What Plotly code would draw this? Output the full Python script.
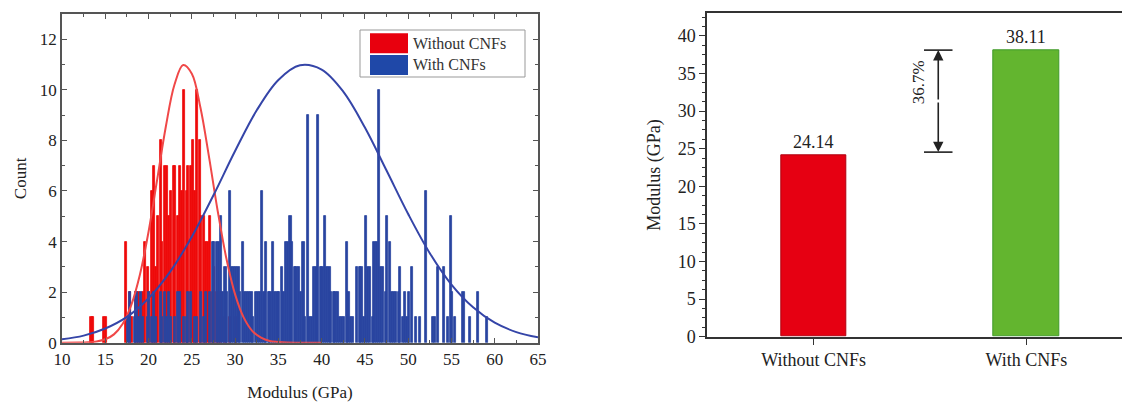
import plotly.graph_objects as go

# ---------------- data: histogram (left) ----------------
red_x = [13.4, 13.6, 14.9, 15.1, 17.4, 17.9, 18.1, 18.6, 18.9, 19.1, 19.4, 19.6, 19.9, 20.1,
         20.4, 20.6, 20.9, 21.1, 21.4, 21.6, 21.9, 22.1, 22.4, 22.6, 22.9, 23.1, 23.4, 23.6,
         23.9, 24.1, 24.4, 24.6, 24.9, 25.1, 25.4, 25.6, 25.9, 26.1, 26.4, 26.6, 26.9, 27.1,
         27.4, 27.6, 27.9, 28.1, 28.4, 28.9, 29.4, 30.1]
red_count = [1, 1, 1, 1, 4, 2, 1, 2, 2, 1, 2, 4, 3, 2,
             6, 7, 3, 5, 8, 4, 7, 7, 5, 6, 7, 7, 5, 7,
             6, 10, 6, 7, 7, 8, 6, 10, 8, 5, 5, 4, 4, 5,
             2, 3, 2, 1, 2, 1, 1, 1]

blue_x = [17.6, 17.9, 18.4, 18.6, 18.9, 19.1, 19.4, 19.9, 20.1, 20.4, 20.6, 20.9, 21.4, 21.6,
          21.9, 22.1, 22.4, 22.6, 23.1, 23.4, 23.6, 24.1, 24.4, 24.6, 24.9, 25.4, 25.6, 26.1,
          26.4, 26.6, 27.1, 27.4, 27.6, 27.9, 28.1, 28.4, 28.6, 28.9, 29.1, 29.4, 29.6, 29.9,
          30.1, 30.4, 30.6, 30.9, 31.1, 31.4, 31.6, 31.9, 32.1, 32.4, 32.6, 32.9, 33.1, 33.4,
          33.6, 33.9, 34.1, 34.4, 34.6, 34.9, 35.1, 35.4, 35.6, 35.9, 36.1, 36.4, 36.6, 36.9,
          37.1, 37.4, 37.6, 37.9, 38.1, 38.4, 38.6, 38.9, 39.1, 39.4, 39.6, 39.9, 40.1, 40.4,
          40.6, 40.9, 41.1, 41.4, 41.6, 41.9, 42.1, 42.4, 42.6, 42.9, 43.1, 43.4, 43.6, 44.1,
          44.4, 44.6, 44.9, 45.1, 45.4, 45.6, 45.9, 46.1, 46.4, 46.6, 46.9, 47.1, 47.4, 47.6,
          47.9, 48.1, 48.4, 48.6, 48.9, 49.1, 49.4, 49.6, 49.9, 50.1, 50.4, 50.9, 51.4, 52.1,
          52.9, 53.1, 53.4, 54.1, 54.6, 54.9, 55.1, 55.4, 56.4, 57.1, 58.1, 59.1]
blue_count = [1, 2, 1, 2, 1, 2, 1, 1, 2, 1, 2, 1, 2, 1,
              2, 1, 2, 1, 1, 2, 2, 1, 1, 2, 2, 1, 1, 2,
              1, 2, 2, 4, 4, 4, 4, 5, 2, 3, 2, 6, 3, 3,
              3, 3, 2, 4, 2, 2, 2, 2, 1, 2, 2, 2, 6, 2,
              4, 2, 2, 4, 2, 2, 2, 3, 2, 4, 4, 5, 4, 3,
              3, 3, 2, 4, 1, 9, 1, 1, 3, 3, 9, 3, 3, 5,
              3, 3, 2, 2, 2, 2, 1, 1, 1, 4, 2, 1, 1, 3,
              3, 3, 1, 5, 3, 3, 1, 4, 4, 10, 3, 3, 2, 5,
              4, 2, 2, 2, 2, 3, 1, 2, 1, 2, 3, 1, 1, 6,
              1, 1, 3, 3, 1, 5, 2, 1, 2, 1, 2, 1]

# fitted normal curves
red_fit_x = [10, 12, 13, 14, 15, 16, 17, 18, 19, 20, 21, 22, 23, 24, 25, 26, 27, 28, 29, 30,
             31, 32, 33, 34, 35, 36, 40]
red_fit_y = [0.0, 0.005, 0.016, 0.049, 0.135, 0.33, 0.74, 1.49, 2.69, 4.39, 6.46, 8.55, 10.21,
             10.98, 10.64, 9.29, 7.32, 5.19, 3.32, 1.91, 0.99, 0.46, 0.20, 0.07, 0.03, 0.01, 0.0]
blue_fit_x = [10, 12.5, 15, 17.5, 20, 22.5, 25, 27.5, 30, 32.5, 35, 37.5, 40, 42.5, 45, 47.5,
              50, 52.5, 55, 57.5, 60, 62.5, 65]
blue_fit_y = [0.134, 0.28, 0.56, 1.02, 1.76, 2.81, 4.19, 5.83, 7.58, 9.19, 10.39, 10.97, 10.80,
              9.93, 8.51, 6.81, 5.09, 3.54, 2.30, 1.40, 0.79, 0.42, 0.21]

series_names = ["Without CNFs", "With CNFs"]

# ---------------- data: bar chart (right) ----------------
bar_categories = ["Without CNFs", "With CNFs"]
bar_values = [24.14, 38.11]
bar_labels = ["24.14", "38.11"]
increase_label = "36.7%"
increase_from = 24.55
increase_to = 38.11

W, H = 1122, 403
RED = "#EE0A0A"
BLUE = "#2A45A0"
FONT = "Liberation Serif"


def px(x):
    return x / W


def py(y):
    return 1 - y / H


fig = go.Figure()

fig.add_trace(go.Bar(x=red_x, y=red_count, width=0.25, name=series_names[0],
                     marker=dict(color=RED, line=dict(color=RED, width=0.8)),
                     xaxis="x", yaxis="y", showlegend=False))
fig.add_trace(go.Bar(x=blue_x, y=blue_count, width=0.25, name=series_names[1],
                     marker=dict(color=BLUE, line=dict(color=BLUE, width=0.8)),
                     xaxis="x", yaxis="y", showlegend=False))
fig.add_trace(go.Scatter(x=red_fit_x, y=red_fit_y, mode="lines",
                         line=dict(color="#F04848", width=2, shape="spline", smoothing=1.0),
                         xaxis="x", yaxis="y", showlegend=False))
fig.add_trace(go.Scatter(x=blue_fit_x, y=blue_fit_y, mode="lines",
                         line=dict(color="#3545A8", width=2, shape="spline", smoothing=1.0),
                         xaxis="x", yaxis="y", showlegend=False))

fig.add_trace(go.Bar(x=bar_categories, y=bar_values, width=0.306,
                     text=bar_labels, textposition="outside",
                     textfont=dict(family=FONT, size=18, color="#222"),
                     marker=dict(color=["#E60012", "#63B52F"],
                                 line=dict(color=["#B00010", "#3F9A2A"], width=1)),
                     cliponaxis=False, xaxis="x2", yaxis="y2", showlegend=False))

axis_col = "#555555"
fig.update_layout(
    width=W, height=H,
    margin=dict(l=0, r=0, t=0, b=0, autoexpand=False),
    paper_bgcolor="white", plot_bgcolor="white",
    barmode="overlay", bargap=0,
    font=dict(family=FONT, size=17, color="#222"),
    xaxis=dict(domain=[px(62), px(538)], range=[10, 65], dtick=5, tick0=10,
               ticks="inside", ticklen=5, tickcolor=axis_col,
               minor=dict(dtick=2.5, ticks="inside", ticklen=3, tickcolor=axis_col),
               showline=True, linecolor=axis_col, linewidth=1.5, mirror="allticks",
               showgrid=False, zeroline=False, automargin=False,
               tickfont=dict(family=FONT, size=17, color="#222"),
               title=dict(text="Modulus (GPa)", font=dict(family=FONT, size=17), standoff=18)),
    yaxis=dict(domain=[py(342.7), py(14)], range=[0, 13], dtick=2,
               ticks="inside", ticklen=5, tickcolor=axis_col,
               minor=dict(dtick=1, ticks="inside", ticklen=3, tickcolor=axis_col),
               showline=True, linecolor=axis_col, linewidth=1.5, mirror="allticks",
               showgrid=False, zeroline=False, automargin=False,
               tickfont=dict(family=FONT, size=17, color="#222"),
               title=dict(text="Count", font=dict(family=FONT, size=17), standoff=9)),
    xaxis2=dict(domain=[px(707.3), 1.0], range=[-0.5, 1.45], type="category",
                ticks="outside", ticklen=6, tickcolor="#333",
                showline=True, linecolor="#333", linewidth=2, mirror=True,
                showgrid=False, zeroline=False, automargin=False,
                tickfont=dict(family=FONT, size=18, color="#222"), anchor="y2"),
    yaxis2=dict(domain=[py(336.7), py(13.3)], range=[0, 43], dtick=5,
                ticks="outside", ticklen=6, tickcolor="#333",
                minor=dict(dtick=1.25, ticks="outside", ticklen=3, tickcolor="#333"),
                showline=True, linecolor="#333", linewidth=2,
                showgrid=False, zeroline=False, anchor="x2", automargin=False,
                tickfont=dict(family=FONT, size=18, color="#222"),
                title=dict(text="Modulus (GPa)", font=dict(family=FONT, size=18), standoff=12)),
)

# manual legend (large swatches)
shapes = [
    dict(type="rect", xref="paper", yref="paper", x0=px(360), x1=px(525), y0=py(77), y1=py(30),
         line=dict(color="#999", width=1), fillcolor="white", layer="above"),
    dict(type="rect", xref="paper", yref="paper", x0=px(370), x1=px(408), y0=py(53.3), y1=py(33.3),
         line=dict(width=0), fillcolor="#E8000E", layer="above"),
    dict(type="rect", xref="paper", yref="paper", x0=px(370), x1=px(408), y0=py(75), y1=py(55),
         line=dict(width=0), fillcolor="#1F48A8", layer="above"),
]
annotations = [
    dict(xref="paper", yref="paper", x=px(411), y=py(43.3), text=series_names[0], showarrow=False,
         xanchor="left", yanchor="middle", font=dict(family=FONT, size=16, color="#333")),
    dict(xref="paper", yref="paper", x=px(411), y=py(65), text=series_names[1], showarrow=False,
         xanchor="left", yanchor="middle", font=dict(family=FONT, size=16, color="#333")),
]

# increase indicator on right chart
arrow_x = 0.586
cap_half = 0.067
for yv in (increase_to, increase_from):
    shapes.append(dict(type="line", xref="x2", yref="y2", x0=arrow_x - cap_half, x1=arrow_x + cap_half,
                       y0=yv, y1=yv, line=dict(color="#333", width=1.8)))
mid = (increase_to + increase_from) / 2
for yv in (increase_to, increase_from):
    annotations.append(dict(xref="x2", yref="y2", x=arrow_x, y=yv, ax=arrow_x, ay=mid,
                            axref="x2", ayref="y2", text="", showarrow=True, arrowhead=2,
                            arrowsize=1.3, arrowwidth=1.6, arrowcolor="#222"))
annotations.append(dict(xref="x2", yref="y2", x=arrow_x - 0.095, y=mid + 2.5, text=increase_label,
                        showarrow=False, textangle=-90, xanchor="center", yanchor="middle",
                        font=dict(family=FONT, size=17, color="#222")))

fig.update_layout(shapes=shapes, annotations=annotations)
fig.write_html("out.html")
